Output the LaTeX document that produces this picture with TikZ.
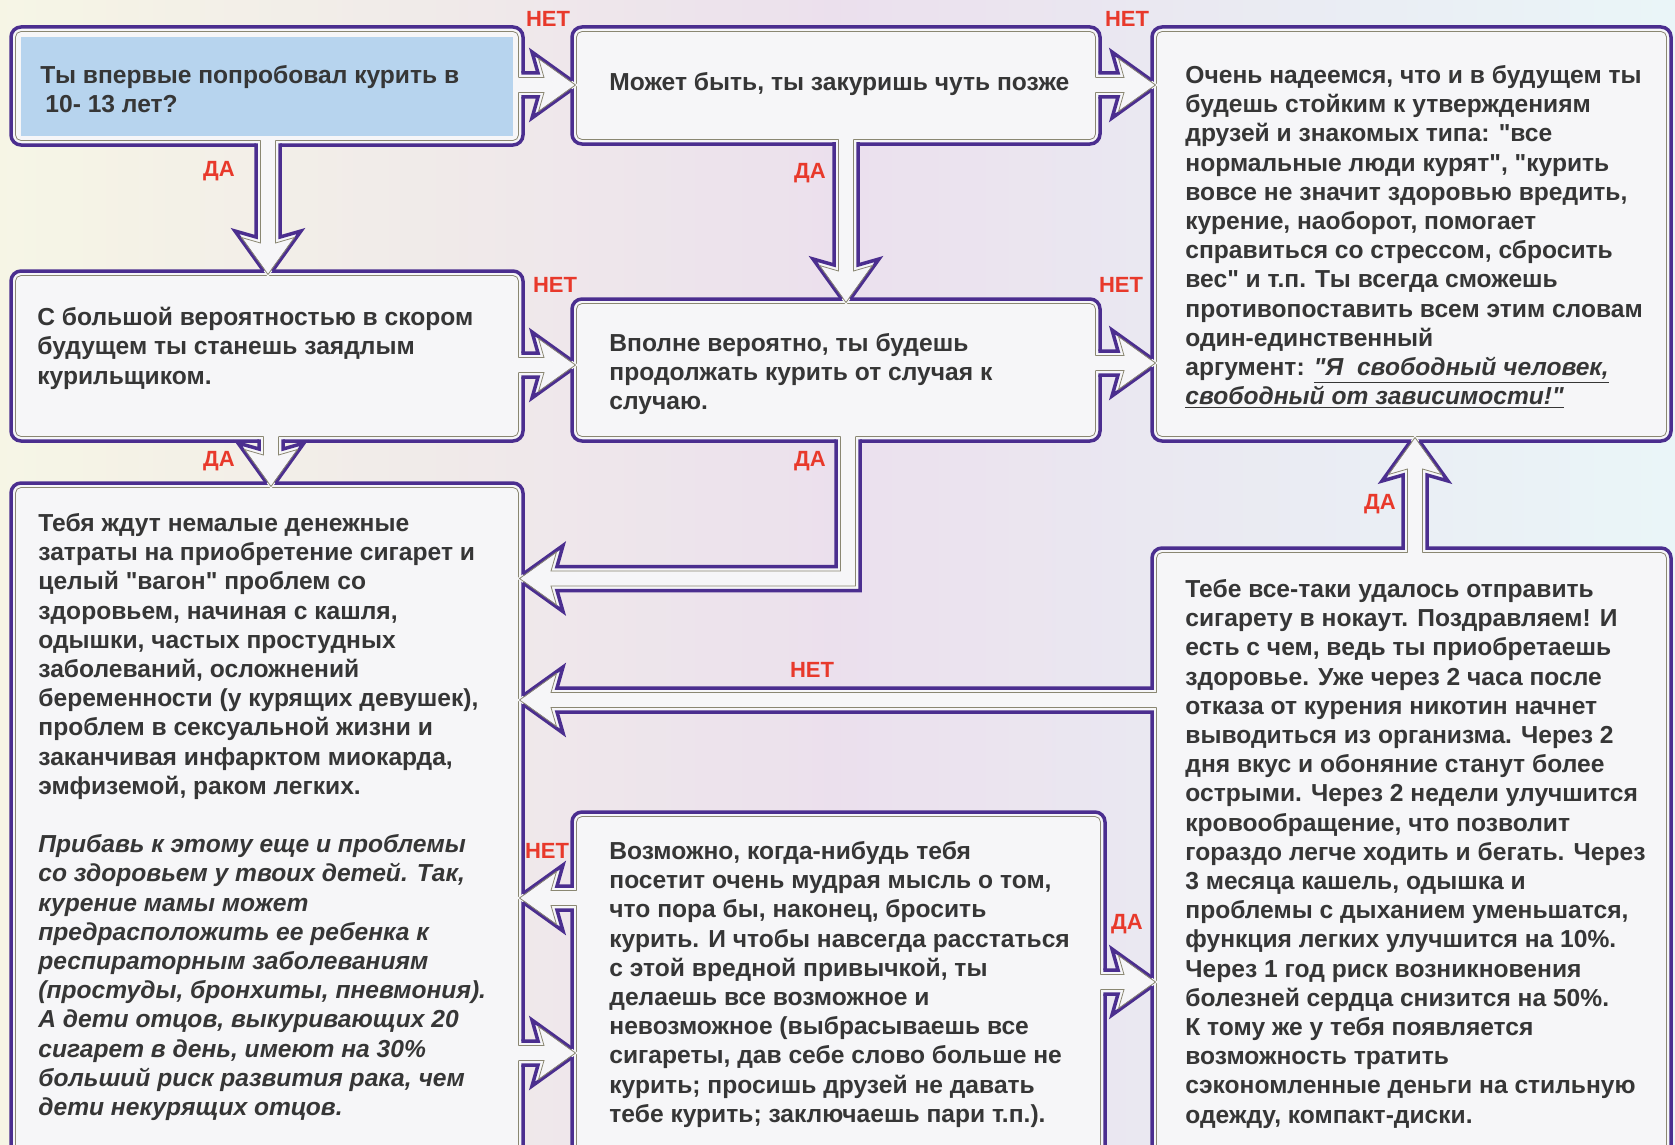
\documentclass[tikz,border=0pt]{standalone}
\usepackage{fontspec}
\setmainfont{Liberation Sans}[Ligatures=TeXOff]
\usetikzlibrary{calc}

\definecolor{rimviolet}{HTML}{4B2E8F}
\definecolor{seamgray}{HTML}{8A8772}
\definecolor{panel}{HTML}{F6F6F8}
\definecolor{backdrop}{HTML}{E9E8EE}
\definecolor{askblue}{HTML}{B7D4EE}
\definecolor{yesno}{HTML}{E8392B}
\definecolor{ink}{HTML}{363636}

\tikzset{
  rim/.style={draw=rimviolet,line width=1.75pt,line join=miter},
  seam/.style={draw=seamgray,line width=.4pt},
  card/.style={rim,fill=panel,rounded corners=5pt},
  cardseam/.style={seam,rounded corners=2.75pt},
  txt/.style={anchor=north west,inner sep=0pt,align=left,text=ink,font=\fontsize{12.3}{14.6}\selectfont\bfseries},
  lab/.style={inner sep=0pt,text=yesno,font=\fontsize{11}{13}\selectfont\bfseries},
}

\newcommand{\hollow}[4]{%
  \begin{scope}[shift={(#1,#2)},rotate=#3]
    \fill[panel] ({-#4-5},-7.5) -- ({-#4-2},-7.5) -- ({-#4-2},-12) -- (-40,-12) -- (-46,-33) -- (0,0) -- (-46,33) -- (-40,12) -- ({-#4-2},12) -- ({-#4-2},7.5) -- ({-#4-5},7.5) -- cycle;
    \draw[rim] ({-#4-1.75},-12) -- (-40,-12) -- (-46,-33) -- (-6,-4.3);
    \draw[rim] ({-#4-1.75},12) -- (-40,12) -- (-46,33) -- (-6,4.3);
    \draw[seam] ({-#4-4.5},-7.5) -- (-34,-7.5) -- (-39.5,-26.5) -- (-2.5,0) -- (-39.5,26.5) -- (-34,7.5) -- ({-#4-4.5},7.5);
  \end{scope}}

\begin{document}
\begin{tikzpicture}[x=0.5pt,y=-0.5pt]
\clip (0,0) rectangle (1675,1145);
\fill[backdrop] (0,0) rectangle (1675,1145);
\shade[left color=yellow!12,right color=violet!14,opacity=.6] (0,0) rectangle (840,1145);
\shade[left color=violet!14,right color=cyan!8,opacity=.6] (840,0) rectangle (1675,1145);

\draw[card] (11,27) rectangle (523,145);
\fill[askblue] (21,37) rectangle (513,136);
\draw[cardseam] (15.5,31.5) rectangle (518.5,140.5);
\draw[card] (572,27) rectangle (1100,144);
\draw[cardseam] (576.5,31.5) rectangle (1095.5,139.5);
\draw[card] (1152,27) rectangle (1671,441);
\draw[cardseam] (1156.5,31.5) rectangle (1666.5,436.5);
\draw[card] (11,271) rectangle (523,441);
\draw[cardseam] (15.5,275.5) rectangle (518.5,436.5);
\draw[card] (572,299) rectangle (1100,441);
\draw[cardseam] (576.5,303.5) rectangle (1095.5,436.5);
\draw[card] (11,483) rectangle (523,1170);
\draw[cardseam] (15.5,487.5) rectangle (518.5,1165.5);
\draw[card] (572,812) rectangle (1105,1170);
\draw[cardseam] (576.5,816.5) rectangle (1100.5,1165.5);
\draw[card] (1152,548) rectangle (1671,1170);
\draw[cardseam] (1156.5,552.5) rectangle (1666.5,1165.5);

\hollow{578}{85}{0}{55}
\hollow{1158}{85}{0}{58}
\hollow{578}{365}{0}{55}
\hollow{1158}{363}{0}{58}
\hollow{1158}{982}{0}{53}
\hollow{578}{1053}{0}{55}
\hollow{268}{277}{-90}{132}
\hollow{846}{305}{-90}{161}
\hollow{271}{489}{-90}{48}
\hollow{1415}{435}{90}{113}
\hollow{517}{898}{180}{55}
\hollow{517}{700}{180}{635}

\fill[panel] (840.5,436) -- (840.5,439) -- (836,439) -- (836,566.5) -- (557,566.5) -- (563,545.5) -- (517,578.5) -- (563,611.5) -- (557,590.5) -- (860,590.5) -- (860,439) -- (855.5,439) -- (855.5,436) -- cycle;
\draw[rim] (836,439.25) -- (836,566.5) -- (557,566.5) -- (563,545.5) -- (523,574.2);
\draw[rim] (860,439.25) -- (860,590.5) -- (557,590.5) -- (563,611.5) -- (523,582.8);
\draw[seam] (840.5,436.5) -- (840.5,571) -- (551,571) -- (556.5,552) -- (519.5,578.5) -- (556.5,605) -- (551,586) -- (855.5,586) -- (855.5,436.5);

\node[txt] (tStart) at (40,65) {Ты впервые попробовал курить в\\\hspace{2.5pt}10- 13 лет?};
\node[txt] (tLater) at (609,72) {Может быть, ты закуришь чуть позже};
\node[txt] (tFree) at (1185,65) {Очень надеемся, что и в будущем ты\\
будешь стойким к утверждениям\\
друзей и знакомых типа: "все\\
нормальные люди курят", "курить\\
вовсе не значит здоровью вредить,\\
курение, наоборот, помогает\\
справиться со стрессом, сбросить\\
вес" и т.п. Ты всегда сможешь\\
противопоставить всем этим словам\\
один-единственный\\
аргумент: \underline{\itshape "Я\ \ свободный человек,}\\
\underline{\itshape свободный от зависимости!"}};
\node[txt] (tHabit) at (37,307) {С большой вероятностью в скором\\
будущем ты станешь заядлым\\
курильщиком.};
\node[txt] (tSometimes) at (609,333) {Вполне вероятно, ты будешь\\
продолжать курить от случая к\\
случаю.};
\node[txt] (tCost) at (38,513) {Тебя ждут немалые денежные\\
затраты на приобретение сигарет и\\
целый "вагон" проблем со\\
здоровьем, начиная с кашля,\\
одышки, частых простудных\\
заболеваний, осложнений\\
беременности (у курящих девушек),\\
проблем в сексуальной жизни и\\
заканчивая инфарктом миокарда,\\
эмфиземой, раком легких.\\[14.6pt]
\itshape Прибавь к этому еще и проблемы\\
\itshape со здоровьем у твоих детей. Так,\\
\itshape курение мамы может\\
\itshape предрасположить ее ребенка к\\
\itshape респираторным заболеваниям\\
\itshape (простуды, бронхиты, пневмония).\\
\itshape А дети отцов, выкуривающих 20\\
\itshape сигарет в день, имеют на 30\%\\
\itshape больший риск развития рака, чем\\
\itshape дети некурящих отцов.};
\node[txt] (tQuit) at (609,841) {Возможно, когда-нибудь тебя\\
посетит очень мудрая мысль о том,\\
что пора бы, наконец, бросить\\
курить. И чтобы навсегда расстаться\\
с этой вредной привычкой, ты\\
делаешь все возможное и\\
невозможное (выбрасываешь все\\
сигареты, дав себе слово больше не\\
курить; просишь друзей не давать\\
тебе курить; заключаешь пари т.п.).};
\node[txt] (tWin) at (1185,579) {Тебе все-таки удалось отправить\\
сигарету в нокаут. Поздравляем! И\\
есть с чем, ведь ты приобретаешь\\
здоровье. Уже через 2 часа после\\
отказа от курения никотин начнет\\
выводиться из организма. Через 2\\
дня вкус и обоняние станут более\\
острыми. Через 2 недели улучшится\\
кровообращение, что позволит\\
гораздо легче ходить и бегать. Через\\
3 месяца кашель, одышка и\\
проблемы с дыханием уменьшатся,\\
функция легких улучшится на 10\%.\\
Через 1 год риск возникновения\\
болезней сердца снизится на 50\%.\\
К тому же у тебя появляется\\
возможность тратить\\
сэкономленные деньги на стильную\\
одежду, компакт-диски.};

\node[lab] (nAB) at (548,19) {НЕТ};
\node[lab] (nBC) at (1127,19) {НЕТ};
\node[lab] (nDE) at (555,285) {НЕТ};
\node[lab] (nEC) at (1121,285) {НЕТ};
\node[lab] (nHF) at (812,670) {НЕТ};
\node[lab] (nGF) at (547,851) {НЕТ};
\node[lab] (yAD) at (219,171) {ДА};
\node[lab] (yBE) at (810,173) {ДА};
\node[lab] (yDF) at (219,461) {ДА};
\node[lab] (yEF) at (810,461) {ДА};
\node[lab] (yHC) at (1380,504) {ДА};
\node[lab] (yGH) at (1127,924) {ДА};
\end{tikzpicture}
\end{document}
